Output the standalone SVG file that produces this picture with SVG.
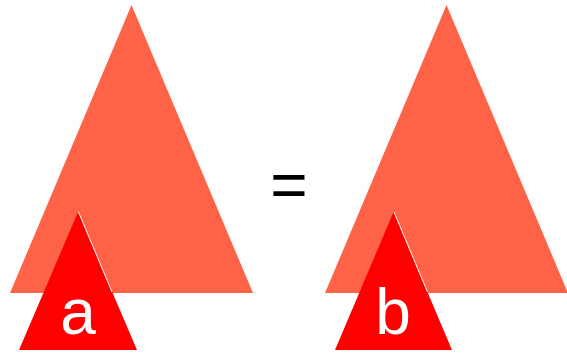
<svg xmlns="http://www.w3.org/2000/svg" width="567" height="356" viewBox="0 0 567 356">
<style>
.big{fill:#FF6347}
.small{fill:#FF0000}
.edge{stroke:#FFFFFF;stroke-width:1;fill:none}
.lbl{font-family:"Liberation Sans",Arial,sans-serif;font-size:64px;fill:#FFFFFF;text-anchor:middle}
.eq{font-family:"Liberation Sans",Arial,sans-serif;font-size:64px;fill:#000000;text-anchor:middle}
</style>
<rect width="567" height="356" fill="#FFFFFF"/>
<g id="left">
<polygon class="big" points="131.5,5 10,293 253,293"/>
<g id="a">
<polygon class="small" points="78,212 19,350 137,350"/>
<line class="edge" x1="78.5" y1="212" x2="112" y2="292"/>
<text class="lbl" x="78" y="334">a</text>
</g>
</g>
<g id="equals">
<text class="eq" x="289" y="207">=</text>
</g>
<g id="right">
<polygon class="big" points="446.5,5 325,293 568,293"/>
<g id="b">
<polygon class="small" points="393.5,212 335,350 452,350"/>
<line class="edge" x1="394" y1="212" x2="427.5" y2="292"/>
<text class="lbl" x="393" y="334">b</text>
</g>
</g>
</svg>
